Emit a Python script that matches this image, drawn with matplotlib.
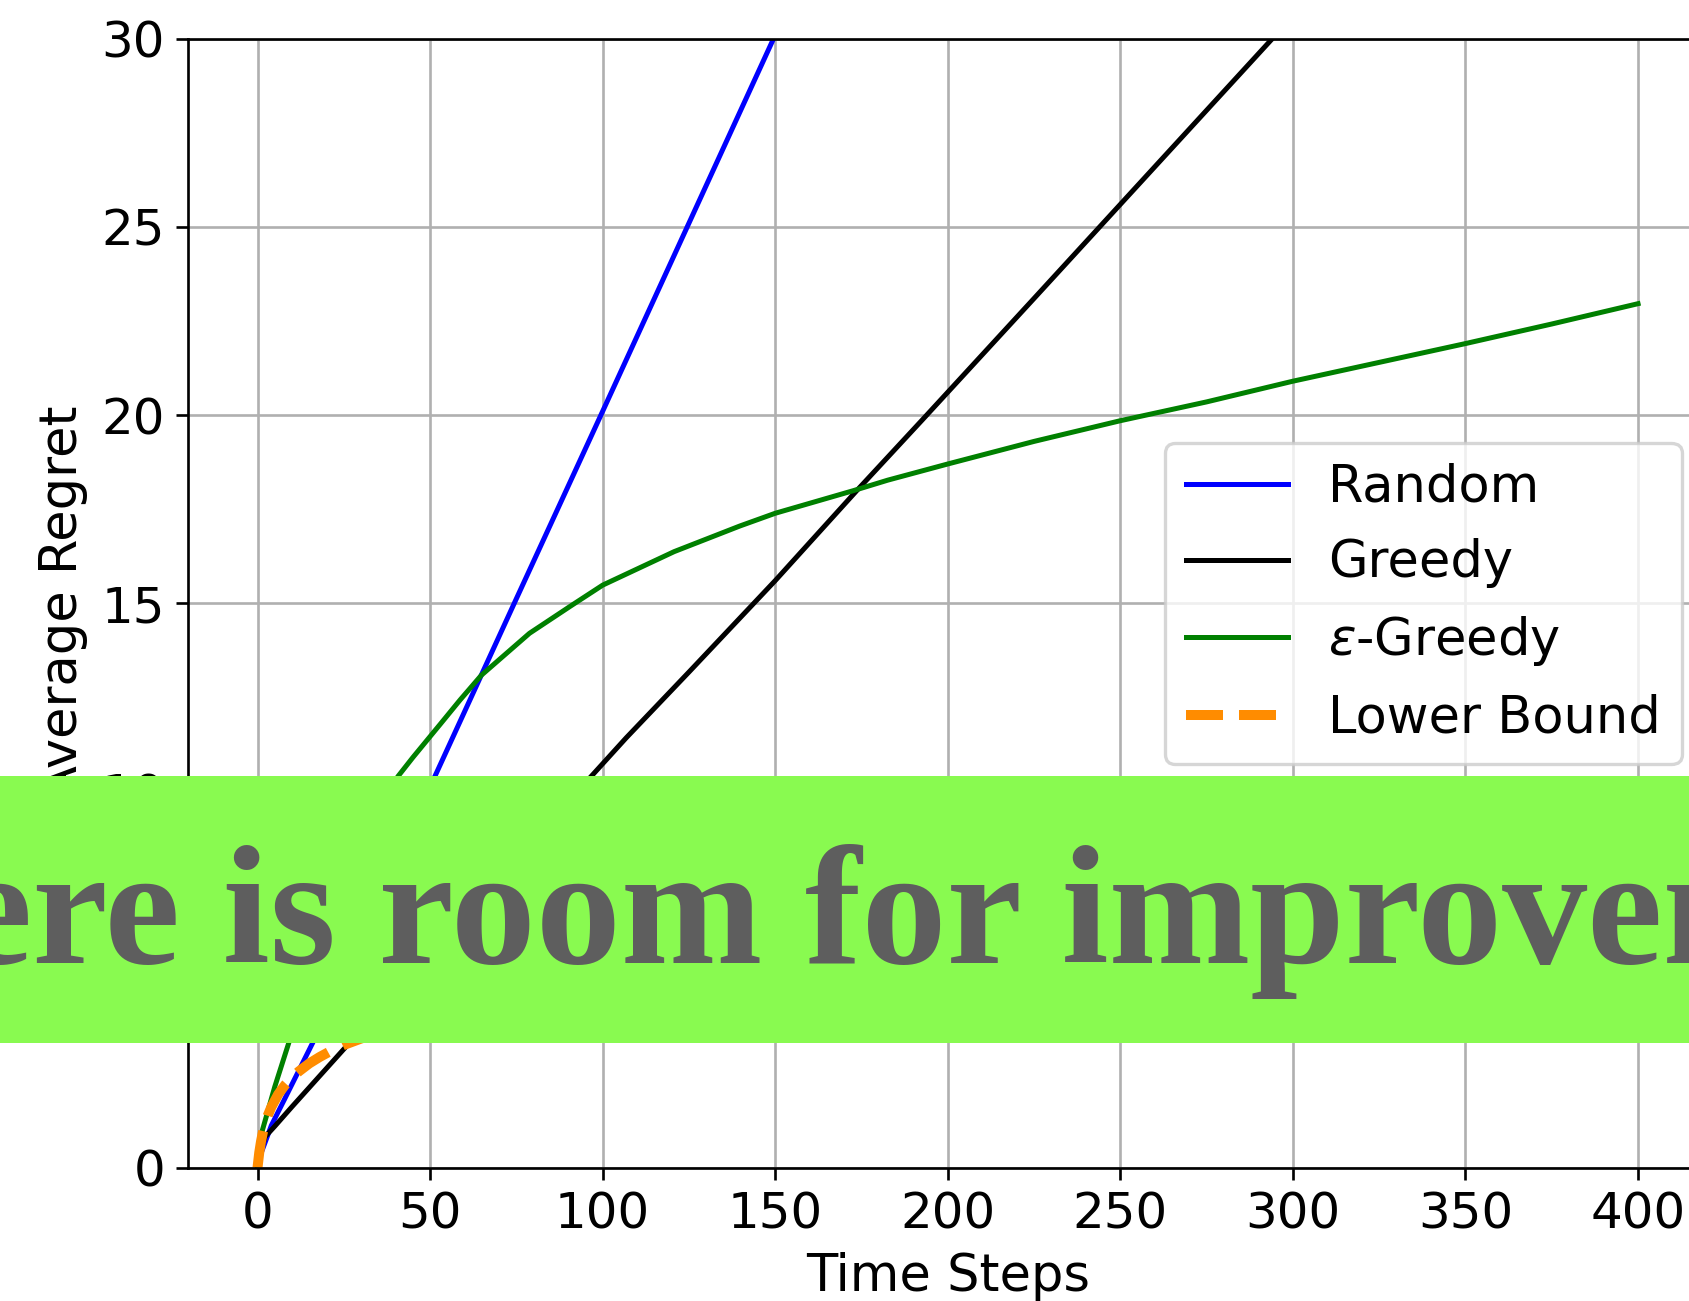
import numpy as np
import matplotlib
matplotlib.use('Agg')
import matplotlib.pyplot as plt
from matplotlib.patches import Rectangle

# Values
t_random = [0, 1, 2, 4, 8, 16, 30, 50, 75, 100, 125, 150, 175]
random_regret = [0, 0.38, 0.62, 1.12, 1.85, 3.32, 6.12, 10.12, 15.12, 20.1, 25.1, 30.1, 35.1]

t_greedy = [0, 1, 2.2, 5, 10, 15, 20, 25.6, 40, 60, 80, 96.8, 106.8, 125, 150, 173.6, 192.6,
            225, 250, 275, 300, 325, 350, 375, 400]
greedy_regret = [0, 0.45, 0.82, 1.1, 1.62, 2.13, 2.64, 3.21, 4.67, 6.69, 8.71, 10.41, 11.42, 13.17, 15.6,
                 17.99, 19.87, 23.1, 25.6, 28.1, 30.6, 33.1, 35.6, 38.1, 40.6]

t_eps = [0, 1.4, 5, 9, 15, 20, 25, 30, 35, 40.8, 45, 52.9, 58.7, 64.9, 78.8, 90.8, 100, 120.7,
         139.7, 150, 172.6, 182.6, 200, 225, 250, 275, 300, 325, 350, 375, 400]
eps_regret = [0, 0.99, 2.15, 3.3, 5.0, 6.3, 7.5, 8.7, 9.65, 10.41, 10.9, 11.78, 12.43, 13.09, 14.2, 14.93,
              15.48, 16.37, 17.05, 17.39, 17.99, 18.27, 18.7, 19.3, 19.85, 20.35, 20.9, 21.4, 21.9, 22.42, 22.96]

t_lower = [0, 0.5, 1, 1.5, 2, 3, 4, 6, 8, 10, 12, 15, 18, 21, 25, 30, 40, 50, 75, 100,
           150, 200, 250, 300, 350, 400]
lower_bound = [0, 0.4, 0.69, 0.92, 1.1, 1.39, 1.61, 1.95, 2.2, 2.4, 2.56, 2.77, 2.94, 3.09, 3.26,
               3.43, 3.71, 3.93, 4.33, 4.62, 5.02, 5.3, 5.52, 5.71, 5.86, 5.99]

x_ticks = [0, 50, 100, 150, 200, 250, 300, 350, 400]
y_ticks = [0, 5, 10, 15, 20, 25, 30]

banner_text = 'There is room for improvement'

fig = plt.figure(figsize=(1689 / 240, 1301 / 240), dpi=240)
ax = fig.add_axes([0.1116, 0.1025, 0.8991, 0.8677])

ax.plot(t_random, random_regret, color='blue', lw=1.5, label='Random')
ax.plot(t_greedy, greedy_regret, color='black', lw=1.5, label='Greedy')
ax.plot(t_eps, eps_regret, color='green', lw=1.5, label=r'$\varepsilon$-Greedy')
ax.plot(t_lower, lower_bound, color='darkorange', lw=3, ls='--', label='Lower Bound')

ax.set_xlim(-20, 420)
ax.set_ylim(0, 30)
ax.set_xticks(x_ticks)
ax.set_yticks(y_ticks)
ax.tick_params(labelsize=15)
ax.set_xlabel('Time Steps', fontsize=15.3)
ax.set_ylabel('Average Regret', fontsize=15.3)
ax.grid(True)
ax.legend(loc='center right', fontsize=15.3)

# green banner across the figure
fig.patches.append(Rectangle((0, 0.1985), 1, 0.205, transform=fig.transFigure,
                             facecolor='#89fa50', edgecolor='none', zorder=10))
fig.text(0.527, 0.2596, banner_text, ha='center', va='baseline', fontsize=51,
         family='Liberation Serif', weight='bold', color='#5e5e5e', zorder=11)

fig.savefig('out.png', dpi=240)
